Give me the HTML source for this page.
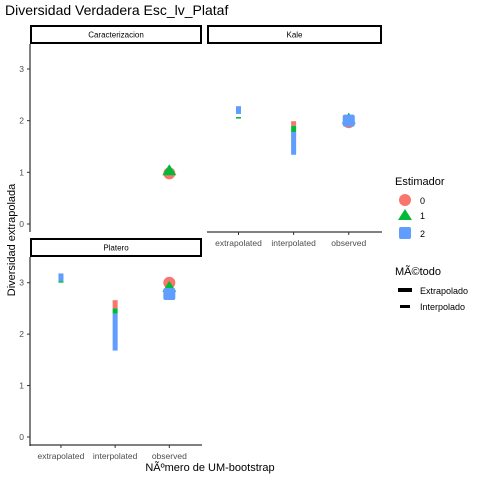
<!DOCTYPE html>
<html><head><meta charset="utf-8"><style>
body{margin:0;background:#fff}
svg{display:block;font-family:"Liberation Sans",Arial,sans-serif}
</style></head><body>
<svg id="chart" width="480" height="480" viewBox="0 0 480 480">
<text x="5" y="15" font-size="14" fill="#000">Diversidad Verdadera Esc_lv_Plataf</text>
<g id="panels"></g>
<text transform="translate(15,240) rotate(-90)" text-anchor="middle" font-size="11">Diversidad extrapolada</text>
<text x="210" y="471" text-anchor="middle" font-size="11">NÃºmero de UM-bootstrap</text>
<g>
<text x="395" y="185" font-size="11">Estimador</text>
<circle cx="405" cy="200" r="6" fill="#F8766D"/>
<text x="420" y="204" font-size="9">0</text>
<polygon points="405,209 412,220 398,220" fill="#00BA38"/>
<text x="420" y="219" font-size="9">1</text>
<rect x="399" y="227" width="12" height="12" rx="2" fill="#619CFF"/>
<text x="420" y="237" font-size="9">2</text>
</g>
<g>
<text x="395" y="275" font-size="11">MÃ©todo</text>
<rect x="398" y="288" width="14" height="4" fill="#000"/>
<text x="420" y="294" font-size="9">Extrapolado</text>
<rect x="400" y="305" width="10" height="3" fill="#000"/>
<text x="420" y="310" font-size="9">Interpolado</text>
</g>
</svg>
<script>
const categories = ["extrapolated","interpolated","observed"];
const yTicks = [0,1,2,3];
const panelNames = ["Caracterizacion","Kale","Platero"];
const colors = ["#F8766D","#00BA38","#619CFF"];
// segments: [panel, category, estimator, low, high]
const kaleSegments = [[1,0,2,2.13,2.28],[1,0,1,2.04,2.07],[1,1,0,1.90,1.99],[1,1,1,1.78,1.90],[1,1,2,1.34,1.78]];
const plateroSegments = [[2,0,2,3.03,3.18],[2,0,1,3.01,3.03],[2,1,0,2.50,2.66],[2,1,1,2.40,2.50],[2,1,2,1.68,2.40]];
// observed points: [panel, estimator, value]
const observedPoints = [[0,0,0.98],[0,1,1.02],[1,0,1.97],[1,1,2.02],[1,2,2.0],[2,0,3.0],[2,1,2.9],[2,2,2.78]];

const NS="http://www.w3.org/2000/svg";
const g=document.getElementById('panels');
const layout=[{x0:30,x1:202,top:44,bot:231,y0:224,y3:69,showY:true,showX:false},
              {x0:207,x1:382,top:44,bot:232,y0:224,y3:69,showY:false,showX:true},
              {x0:30,x1:202,top:257,bot:445,y0:437,y3:282.7,showY:true,showX:true}];
function mk(t,a,p){const e=document.createElementNS(NS,t);for(const k in a)e.setAttribute(k,a[k]);(p||g).appendChild(e);return e;}
function yS(L,v){return L.y0+(L.y3-L.y0)*v/3;}
function xS(L,i){const w=L.x1-L.x0;return L.x0+w*(0.18+0.315*i);}
layout.forEach((L,pi)=>{
  const s=mk('rect',{x:L.x0+1,y:L.top-18,width:L.x1-L.x0-2,height:17,fill:'#fff',stroke:'#000','stroke-width':2});
  
  
  const st=mk('text',{x:(L.x0+L.x1)/2,y:L.top-6.5,'text-anchor':'middle','font-size':8});
  st.textContent=panelNames[pi];
  
  
  if(L.showY){
    const ax=mk('line',{x1:L.x0,x2:L.x0,y1:L.top,y2:L.bot+1,stroke:'#000','stroke-width':1});
    
    
    yTicks.forEach(v=>{const y=yS(L,v);
      mk('line',{x1:L.x0-3,x2:L.x0,y1:y,y2:y,stroke:'#333'});
      const t=mk('text',{x:L.x0-6,y:y+3,'text-anchor':'end','font-size':8.5,fill:'#4d4d4d'});t.textContent=v;
      
      });
  }
  if(L.showX){
    const ax=mk('line',{x1:L.x0,x2:L.x1,y1:L.bot,y2:L.bot,stroke:'#000','stroke-width':1});
    
    
    categories.forEach((c,i)=>{const x=xS(L,i);
      mk('line',{x1:x,x2:x,y1:L.bot,y2:L.bot+3,stroke:'#333'});
      const t=mk('text',{x:x,y:L.bot+14,'text-anchor':'middle','font-size':8.5,fill:'#4d4d4d'});t.textContent=c;
      
      });
  }
});
kaleSegments.concat(plateroSegments).forEach(d=>{
  const L=layout[d[0]];const x=xS(L,d[1]);const y1=yS(L,d[4]),y2=yS(L,d[3]);
  const r=mk('rect',{x:x-2.5,y:y1,width:5,height:Math.max(1.5,y2-y1),fill:colors[d[2]]});
  
  
});
observedPoints.forEach(d=>{
  const L=layout[d[0]];const x=xS(L,2);const y=yS(L,d[2]);let e;
  if(d[1]===0)e=mk('circle',{cx:x,cy:y,r:6,fill:colors[0]});
  else if(d[1]===1)e=mk('polygon',{points:`${x},${y-7} ${x+7},${y+4} ${x-7},${y+4}`,fill:colors[1]});
  else e=mk('rect',{x:x-6,y:y-6,width:12,height:12,rx:2,fill:colors[2]});
  
  
});
</script>
</body></html>
